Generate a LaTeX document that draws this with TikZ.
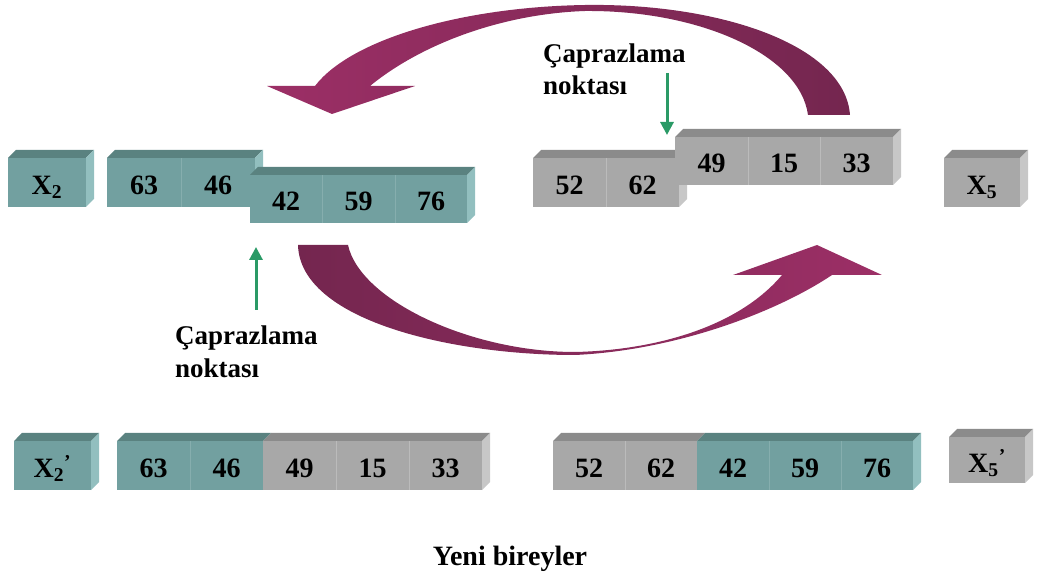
\documentclass[tikz,border=0pt]{standalone}
\usepackage{fontspec}
\setmainfont{Liberation Serif}
\usetikzlibrary{arrows.meta}
\definecolor{tealF}{HTML}{72A0A0}
\definecolor{tealT}{HTML}{5A8280}
\definecolor{tealS}{HTML}{92BFBF}
\definecolor{tealL}{HTML}{86AEAE}
\definecolor{grayF}{HTML}{A8A8A8}
\definecolor{grayT}{HTML}{8B8B8B}
\definecolor{grayS}{HTML}{C7C7C7}
\definecolor{grayL}{HTML}{BBBBBB}
\definecolor{magD}{HTML}{74264F}
\definecolor{magL}{HTML}{9C2F66}
\definecolor{grn}{HTML}{2A9A66}
\newcommand\numfont{\fontsize{28}{28}\selectfont\bfseries}
\newcommand\lblfont{\fontsize{27}{32}\selectfont\bfseries}
\newcommand\facetop[4]{\fill[#4] (#1,#3) -- ({#1+8},{#3-8}) -- ({#2+8},{#3-8}) -- (#2,#3) -- cycle;}
\newcommand\faceside[4]{\fill[#4] (#1,#2) -- ({#1+8},{#2-8}) -- ({#1+8},{#3-8}) -- (#1,#3) -- cycle;}
\newcommand\cellbox[7]{\node[cell, fill=#6, minimum width={(#4-#2)*1pt}, minimum height={(#5-#3)*1pt}] (#1) at ({(#2+#4)/2},{(#3+#5)/2}) {#7};}
\tikzset{
  cell/.style={inner sep=0pt, outer sep=0pt, font=\numfont, text=black, text height=24pt, text depth=0pt},
  divT/.style={draw=tealL, line width=1pt},
  divG/.style={draw=grayL, line width=1pt},
  lbl/.style={font=\lblfont, inner sep=0pt, text=black},
  garrow/.style={draw=grn, line width=3pt, -{Triangle[width=13pt,length=13pt]}},
}
\begin{document}
\begin{tikzpicture}[x=1pt,y=-1pt]
\useasboundingbox (0,0) rectangle (1037,577);
% ---------- top magenta arrow (right to left) ----------
\shade[left color=magL, right color=magD]
  (850,115) .. controls (845,45) and (720,3) .. (585,5)
  .. controls (460,7) and (350,40) .. (315,86)
  -- (267,86) -- (332,114) -- (415,86) -- (370,86)
  .. controls (420,45) and (500,14) .. (585,11)
  .. controls (700,10) and (800,55) .. (808,115) -- cycle;
% ---------- bottom magenta arrow (left to right) ----------
\shade[left color=magD, right color=magL]
  (298,245) .. controls (300,320) and (450,355) .. (575,355)
  .. controls (680,350) and (780,310) .. (832,275)
  -- (882,275) -- (817,245) -- (733,275) -- (782,275)
  .. controls (740,325) and (660,350) .. (575,352)
  .. controls (470,352) and (360,300) .. (348,245) -- cycle;
% ---------- top row, left ----------
\facetop{8}{86}{158}{tealT}\faceside{86}{158}{207}{tealS}
\cellbox{x2}{8}{158}{86}{207}{tealF}{X\textsubscript{2}}
\facetop{107}{255}{158}{tealT}\faceside{255}{158}{207}{tealS}
\cellbox{a63}{107}{158}{181}{207}{tealF}{63}
\cellbox{a46}{181}{158}{255}{207}{tealF}{46}
\draw[divT] (a63.north east) -- (a63.south east);
\facetop{250}{467}{175}{tealT}\faceside{467}{175}{223}{tealS}
\cellbox{a42}{250}{175}{322}{223}{tealF}{42}
\cellbox{a59}{322}{175}{395}{223}{tealF}{59}
\cellbox{a76}{395}{175}{467}{223}{tealF}{76}
\draw[divT] (a42.north east) -- (a42.south east);
\draw[divT] (a59.north east) -- (a59.south east);
% ---------- top row, right ----------
\facetop{533}{679}{158}{grayT}\faceside{679}{158}{207}{grayS}
\cellbox{b52}{533}{158}{606}{207}{grayF}{52}
\cellbox{b62}{606}{158}{679}{207}{grayF}{62}
\draw[divG] (b52.north east) -- (b52.south east);
\facetop{675}{893}{137}{grayT}\faceside{893}{137}{185}{grayS}
\cellbox{b49}{675}{137}{748}{185}{grayF}{49}
\cellbox{b15}{748}{137}{820}{185}{grayF}{15}
\cellbox{b33}{820}{137}{893}{185}{grayF}{33}
\draw[divG] (b49.north east) -- (b49.south east);
\draw[divG] (b15.north east) -- (b15.south east);
\facetop{944}{1020}{158}{grayT}\faceside{1020}{158}{207}{grayS}
\cellbox{x5}{944}{158}{1020}{207}{grayF}{X\textsubscript{5}}
% ---------- bottom row, left ----------
\facetop{14}{91}{441}{tealT}\faceside{91}{441}{490}{tealS}
\cellbox{x2n}{14}{441}{91}{490}{tealF}{X\textsubscript{2}\textsuperscript{'}}
\facetop{117}{263}{441}{tealT}\facetop{263}{482}{441}{grayT}\faceside{482}{441}{490}{grayS}
\cellbox{c63}{117}{441}{190}{490}{tealF}{63}
\cellbox{c46}{190}{441}{263}{490}{tealF}{46}
\cellbox{c49}{263}{441}{336}{490}{grayF}{49}
\cellbox{c15}{336}{441}{409}{490}{grayF}{15}
\cellbox{c33}{409}{441}{482}{490}{grayF}{33}
\draw[divT] (c63.north east) -- (c63.south east);
\draw[divG] (c49.north east) -- (c49.south east);
\draw[divG] (c15.north east) -- (c15.south east);
% ---------- bottom row, right ----------
\facetop{553}{697}{441}{grayT}\facetop{697}{913}{441}{tealT}\faceside{913}{441}{490}{tealS}
\cellbox{d52}{553}{441}{625}{490}{grayF}{52}
\cellbox{d62}{625}{441}{697}{490}{grayF}{62}
\cellbox{d42}{697}{441}{769}{490}{tealF}{42}
\cellbox{d59}{769}{441}{841}{490}{tealF}{59}
\cellbox{d76}{841}{441}{913}{490}{tealF}{76}
\draw[divG] (d52.north east) -- (d52.south east);
\draw[divT] (d42.north east) -- (d42.south east);
\draw[divT] (d59.north east) -- (d59.south east);
\facetop{949}{1025}{437}{grayT}\faceside{1025}{437}{483}{grayS}
\cellbox{x5n}{949}{437}{1025}{483}{grayF}{X\textsubscript{5}\textsuperscript{'}}
% ---------- labels ----------
\node[lbl, anchor=base west] (cpA1) at (543,63) {Çaprazlama};
\node[lbl, anchor=base west] (cpA2) at (543,95) {noktası};
\node[lbl, anchor=base west] (cpB1) at (175,345) {Çaprazlama};
\node[lbl, anchor=base west] (cpB2) at (175,378) {noktası};
\node[lbl, anchor=base] (yeni) at (510,565) {\fontsize{28}{28}\selectfont Yeni bireyler};
% ---------- green arrows ----------
\coordinate (gA0) at (667,73);
\coordinate (gA1) at (667,135);
\coordinate (gB0) at (256,310);
\coordinate (gB1) at (256,247);
\draw[garrow] (gA0) -- (gA1);
\draw[garrow] (gB0) -- (gB1);
\end{tikzpicture}
\end{document}
